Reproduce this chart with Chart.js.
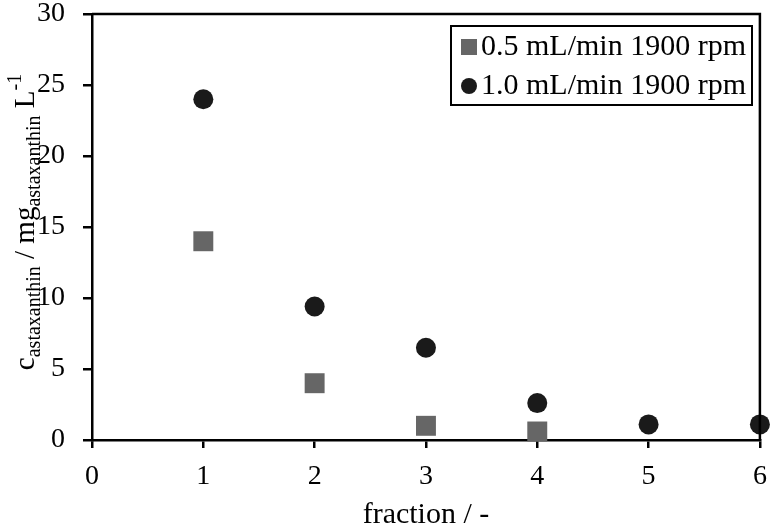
<!DOCTYPE html>
<html>
<head>
<meta charset="utf-8">
<script src="https://cdn.jsdelivr.net/npm/chart.js@4.4.1/dist/chart.umd.min.js"></script>
<style>
  html, body { margin: 0; padding: 0; background: #fff; }
  #wrap { width: 774px; height: 531px; position: relative; }
</style>
</head>
<body>
<div id="wrap"><canvas id="chart"></canvas></div>
<script>
// Data
var fractions05 = [1, 2, 3, 4];
var conc05      = [14.0, 4.0, 1.0, 0.6];
var fractions10 = [1, 2, 3, 4, 5, 6];
var conc10      = [24.0, 9.4, 6.5, 2.6, 1.1, 1.1];
var seriesLabels = ['0.5 mL/min 1900 rpm', '1.0 mL/min 1900 rpm'];
var xTicks = [0, 1, 2, 3, 4, 5, 6];
var yTicks = [0, 5, 10, 15, 20, 25, 30];

var SERIF = '"Liberation Serif", "Times New Roman", serif';
var GREY  = '#666666';
var DARK  = '#1a1a1a';

function _pairs(xs, ys) {
    return xs.map(function(x, i) { return { x: x, y: ys[i] }; });
}

// Box around the plot area, and the legend inside the top-right corner
var framePlugin = {
    id: 'frame',
    afterDraw: function(chart) {
        var ctx = chart.ctx;
        var a = chart.chartArea;
        ctx.save();
        ctx.strokeStyle = '#000';
        ctx.lineWidth = 2.5;
        ctx.beginPath();
        ctx.moveTo(a.left, a.top);
        ctx.lineTo(a.right, a.top);
        ctx.lineTo(a.right, a.bottom);
        ctx.stroke();

        // legend
        var bx = 451, by = 26, bw = 301, bh = 79;
        ctx.fillStyle = '#fff';
        ctx.fillRect(bx, by, bw, bh);
        ctx.lineWidth = 2;
        ctx.strokeRect(bx, by, bw, bh);
        ctx.font = '30px ' + SERIF;
        ctx.textBaseline = 'middle';
        ctx.textAlign = 'left';
        ctx.fillStyle = GREY;
        ctx.fillRect(461, 39, 16, 16);
        ctx.fillStyle = '#000';
        ctx.fillText(seriesLabels[0], 481, 47);
        ctx.fillStyle = DARK;
        ctx.beginPath();
        ctx.arc(469, 86, 8, 0, Math.PI * 2);
        ctx.fill();
        ctx.fillStyle = '#000';
        ctx.fillText(seriesLabels[1], 481, 86);
        ctx.restore();
    }
};

// Y axis title with sub- and superscripts
var yTitlePlugin = {
    id: 'yTitle',
    afterDraw: function(chart) {
        var ctx = chart.ctx;
        var parts = [
            { t: 'c', size: 29, dy: 0 },
            { t: 'astaxanthin', size: 20, dy: 6 },
            { t: ' / mg', size: 29, dy: 0 },
            { t: 'astaxanthin', size: 20, dy: 6 },
            { t: ' L', size: 29, dy: 0 },
            { t: '-1', size: 20, dy: -13 }
        ];
        ctx.save();
        var total = 0;
        parts.forEach(function(p) {
            ctx.font = p.size + 'px ' + SERIF;
            p.w = ctx.measureText(p.t).width;
            total += p.w;
        });
        ctx.translate(34, 222);
        ctx.rotate(-Math.PI / 2);
        ctx.fillStyle = '#000';
        ctx.textBaseline = 'alphabetic';
        ctx.textAlign = 'left';
        var x = -total / 2;
        parts.forEach(function(p) {
            ctx.font = p.size + 'px ' + SERIF;
            ctx.fillText(p.t, x, p.dy);
            x += p.w;
        });
        ctx.restore();
    }
};

new Chart(document.getElementById('chart'), {
    type: 'scatter',
    data: {
        datasets: [{
            label: seriesLabels[0],
            data: _pairs(fractions05, conc05),
            pointStyle: 'rect',
            pointRadius: 14.1,
            backgroundColor: GREY,
            borderWidth: 0,
            clip: false,
        }, {
            label: seriesLabels[1],
            data: _pairs(fractions10, conc10),
            pointStyle: 'circle',
            pointRadius: 10,
            backgroundColor: DARK,
            borderWidth: 0,
            clip: false,
        }],
    },
    options: {
        responsive: true,
        maintainAspectRatio: false,
        animation: false,
        layout: { padding: 0 },
        plugins: {
            legend: { display: false },
            tooltip: { enabled: false },
        },
        scales: {
            x: {
                type: 'linear',
                min: xTicks[0],
                max: xTicks[xTicks.length - 1],
                afterBuildTicks: function(scale) {
                    scale.ticks = xTicks.map(function(v) { return { value: v }; });
                },
                afterFit: function(scale) {
                    scale.height = 91;
                    scale.paddingLeft = 0;
                    scale.paddingRight = 13;
                },
                ticks: {
                    color: '#000',
                    font: { family: SERIF, size: 28 },
                    padding: 12,
                    maxRotation: 0,
                },
                grid: {
                    drawOnChartArea: false,
                    drawTicks: true,
                    tickLength: 8,
                    color: '#000',
                    lineWidth: 2.5,
                },
                border: { display: true, color: '#000', width: 2.5 },
                title: {
                    display: true,
                    text: 'fraction / -',
                    color: '#000',
                    font: { family: SERIF, size: 30 },
                    padding: { top: 0, bottom: -2 },
                },
            },
            y: {
                type: 'linear',
                min: yTicks[0],
                max: yTicks[yTicks.length - 1],
                afterBuildTicks: function(scale) {
                    scale.ticks = yTicks.map(function(v) { return { value: v }; });
                },
                afterFit: function(scale) {
                    scale.width = 92;
                    scale.paddingTop = 13;
                    scale.paddingBottom = 0;
                },
                ticks: {
                    color: '#000',
                    font: { family: SERIF, size: 28 },
                    padding: 18,
                },
                grid: {
                    drawOnChartArea: false,
                    drawTicks: true,
                    tickLength: 9,
                    color: '#000',
                    lineWidth: 2.5,
                },
                border: { display: true, color: '#000', width: 2.5 },
            },
        },
    },
    plugins: [framePlugin, yTitlePlugin],
});
</script>
</body>
</html>
